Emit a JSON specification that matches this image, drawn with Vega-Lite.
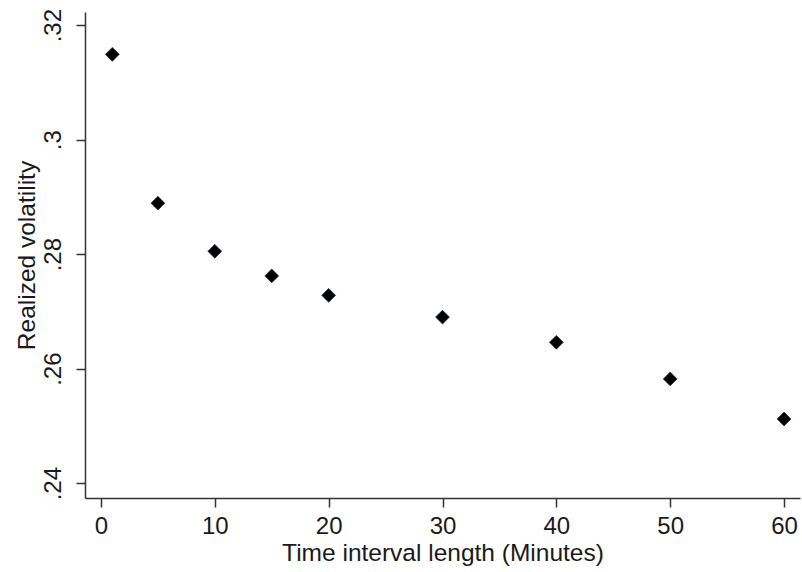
{
  "$schema": "https://vega.github.io/schema/vega-lite/v6.json",
  "autosize": "none",
  "width": 715,
  "height": 486,
  "padding": {"left": 85, "top": 12, "right": 2, "bottom": 74},
  "background": "white",
  "config": {
    "view": {"stroke": null},
    "axis": {"grid": false, "domainColor": "#333333", "tickColor": "#333333", "labelFont": "Liberation Sans", "titleFont": "Liberation Sans", "labelColor": "#1a1a1a", "titleColor": "#1a1a1a", "titleFontWeight": "normal", "domainWidth": 1.5, "tickWidth": 1.5}
  },
  "data": {"values": [
    {"minutes": 1, "rv": 0.3149},
    {"minutes": 5, "rv": 0.2889},
    {"minutes": 10, "rv": 0.2805},
    {"minutes": 15, "rv": 0.2762},
    {"minutes": 20, "rv": 0.2728},
    {"minutes": 30, "rv": 0.2690},
    {"minutes": 40, "rv": 0.2646},
    {"minutes": 50, "rv": 0.2582},
    {"minutes": 60, "rv": 0.2512}
  ]},
  "mark": {"type": "point", "shape": "diamond", "filled": true, "size": 190, "fill": "#000000", "stroke": "#1a2f4a", "strokeWidth": 0.8, "opacity": 1},
  "encoding": {
    "x": {"field": "minutes", "type": "quantitative", "scale": {"domain": [-1.4, 61.4], "nice": false, "zero": false},
      "axis": {"values": [0, 10, 20, 30, 40, 50, 60], "title": "Time interval length (Minutes)", "labelFontSize": 24, "titleFontSize": 24.5, "tickSize": 9, "labelPadding": 7, "titlePadding": 3}},
    "y": {"field": "rv", "type": "quantitative", "scale": {"domain": [0.2374, 0.3223], "nice": false, "zero": false},
      "axis": {"values": [0.24, 0.26, 0.28, 0.30, 0.32], "labelExpr": "substring(format(datum.value, '.2~f'), 1)", "labelAngle": -90, "labelAlign": "center", "labelBaseline": "bottom", "title": "Realized volatility", "labelFontSize": 24, "titleFontSize": 24.5, "tickSize": 9, "labelPadding": 11, "titlePadding": 2}}
  }
}
